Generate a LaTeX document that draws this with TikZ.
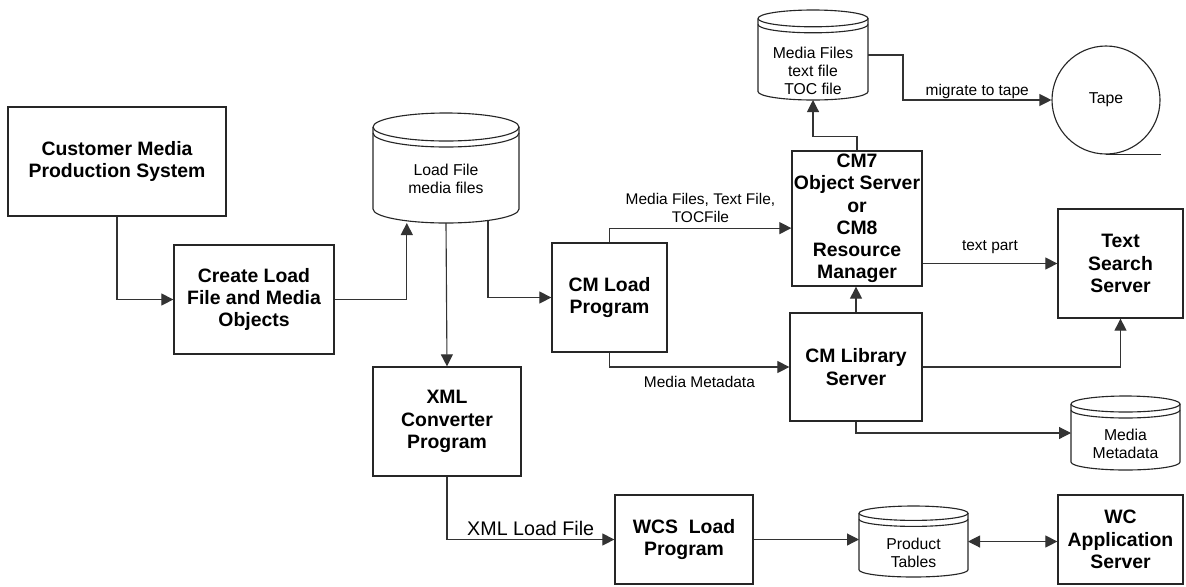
\documentclass[tikz,border=0pt]{standalone}
\usepackage{fontspec}
\setmainfont{Liberation Sans}
\usepackage{tikz}
\usetikzlibrary{shapes, arrows.meta}
\tikzstyle{box}=[draw=black!85, rectangle, line width=0.9pt, inner sep=0pt, align=center, font=\boxfont]
\tikzstyle{dbbox}=[rectangle, inner sep=0pt, outer sep=0pt]
\tikzstyle{dbline}=[draw=black!85, line width=0.8pt]
\tikzstyle{dbtext}=[align=center, font=\dbfont]
\tikzstyle{lbl}=[align=center, font=\lblfont]
\tikzstyle{link}=[draw=black!80, line width=0.8pt, ->]
\def\boxfont{\fontsize{13.8}{15.8}\selectfont\bfseries}
\def\dbfont{\fontsize{11.2}{12.8}\selectfont}
\def\lblfont{\fontsize{11}{12.8}\selectfont}
\def\xmlfont{\fontsize{14}{16}\selectfont}
\def\dbgap{0.15cm}
% database drum: name, position, width, height, radius of the lids
\newcommand{\dbnode}[5]{%
	\node[dbbox, minimum width=#3, minimum height=#4] (#1) at (#2) {};
	\draw[dbline] ([yshift=-#5]#1.north west) arc[start angle=180, end angle=-180, x radius=#3/2, y radius=#5];
	\draw[dbline] ([yshift=-#5-\dbgap]#1.north west) arc[start angle=180, end angle=360, x radius=#3/2, y radius=#5];
	\draw[dbline] ([yshift=-#5]#1.north west) -- ([yshift=#5]#1.south west) arc[start angle=180, end angle=360, x radius=#3/2, y radius=#5] -- ([yshift=-#5]#1.north east);
}

\begin{document}
\begin{tikzpicture}[x=0.25mm, y=0.25mm, >={Triangle[length=0.3cm, width=0.3cm]}]
		\useasboundingbox (0,0) rectangle (1186,-586);
		\node[box, minimum width=5.45cm, minimum height=2.725cm] (cmps) at (117,-161.5) {Customer Media\\Production System};
		\node[box, minimum width=4cm, minimum height=2.725cm] (create) at (254,-299.5) {Create Load\\File and Media\\Objects};
		\node[box, minimum width=2.875cm, minimum height=2.725cm] (cmload) at (609.5,-297.5) {CM Load\\Program};
		\node[box, minimum width=3.7cm, minimum height=2.725cm] (xmlconv) at (447,-421.5) {XML\\Converter\\Program};
		\node[box, minimum width=3.45cm, minimum height=2.225cm] (wcsload) at (684,-539.5) {WCS~~Load\\Program};
		\node[box, minimum width=3.25cm, minimum height=3.375cm] (cmobj) at (857,-218.5) {CM7\\Object Server\\or\\CM8\\Resource\\Manager};
		\node[box, minimum width=3.125cm, minimum height=2.725cm] (textsearch) at (1120.5,-263.5) {Text\\Search\\Server};
		\node[box, minimum width=3.3cm, minimum height=2.7cm] (cmlib) at (856,-367) {CM Library\\Server};
		\node[box, minimum width=3.125cm, minimum height=2.225cm] (wcapp) at (1120.5,-539.5) {WC\\Application\\Server};
		\node[draw=black!85, line width=0.8pt, circle, minimum size=2.7cm, inner sep=0pt, font=\dbfont] (tape) at (1106,-100) {Tape};
		\draw[dbline] (tape.south) -- (tape.south -| tape.east);
		%---------------------
		\dbnode{loadfile}{446,-168}{3.65cm}{2.75cm}{0.35cm}
		\dbnode{mediafiles}{813,-55}{2.75cm}{2.25cm}{0.21cm}
		\dbnode{mediameta}{1125.5,-433}{2.725cm}{1.85cm}{0.2cm}
		\dbnode{product}{913.5,-541.5}{2.725cm}{1.775cm}{0.18cm}
		\node[dbtext, yshift=-0.28cm] (loadfile-t) at (loadfile) {Load File\\media files};
		\node[dbtext, yshift=-0.4cm] (mediafiles-t) at (mediafiles) {Media Files\\text file\\TOC file};
		\node[dbtext, yshift=-0.28cm] (mediameta-t) at (mediameta) {Media\\Metadata};
		\node[dbtext, yshift=-0.29cm] (product-t) at (product) {Product\\Tables};
		%---------------------
		\draw[link] (cmps.south) |- (create.west);
		\draw[link] (create.east) -| ([xshift=-0.98cm]loadfile.south);
		\draw[link] ([xshift=1.05cm, yshift=0.06cm]loadfile.south) |- (cmload.west);
		\draw[link] (loadfile.south) -- (xmlconv.north);
		\draw[link] (cmload.north) |- ([yshift=-0.24cm]cmobj.west) node[lbl, pos=0.75, above] {Media Files, Text File,\\TOCFile};
		\draw[link] (cmload.south) |- (cmlib.west) node[lbl, pos=0.75, below, yshift=-0.1cm] {Media Metadata};
		\draw[link] (cmobj.north) -- ++(0,14) -| (mediafiles.south);
		\draw[link] (mediafiles.east) -- ++(35,0) |- (tape.west) node[lbl, pos=0.75, above, inner sep=0.5pt] {migrate to tape};
		\draw[link] (cmobj.east |- textsearch.west) -- (textsearch.west) node[lbl, midway, above=3pt] {text part};
		\draw[link] (cmlib.north) -- (cmlib.north |- cmobj.south);
		\draw[link] (cmlib.east) -| (textsearch.south);
		\draw[link] (cmlib.south) |- (mediameta.west);
		\draw[link] (xmlconv.south) |- (wcsload.west) node[pos=0.75, above, inner sep=2.5pt, font=\xmlfont] {XML Load File};
		\draw[link] (wcsload.east) -- (wcsload.east -| product.west);
		\draw[link, <->] (product.east) -- (product.east -| wcapp.west);
	\end{tikzpicture}
\end{document}
